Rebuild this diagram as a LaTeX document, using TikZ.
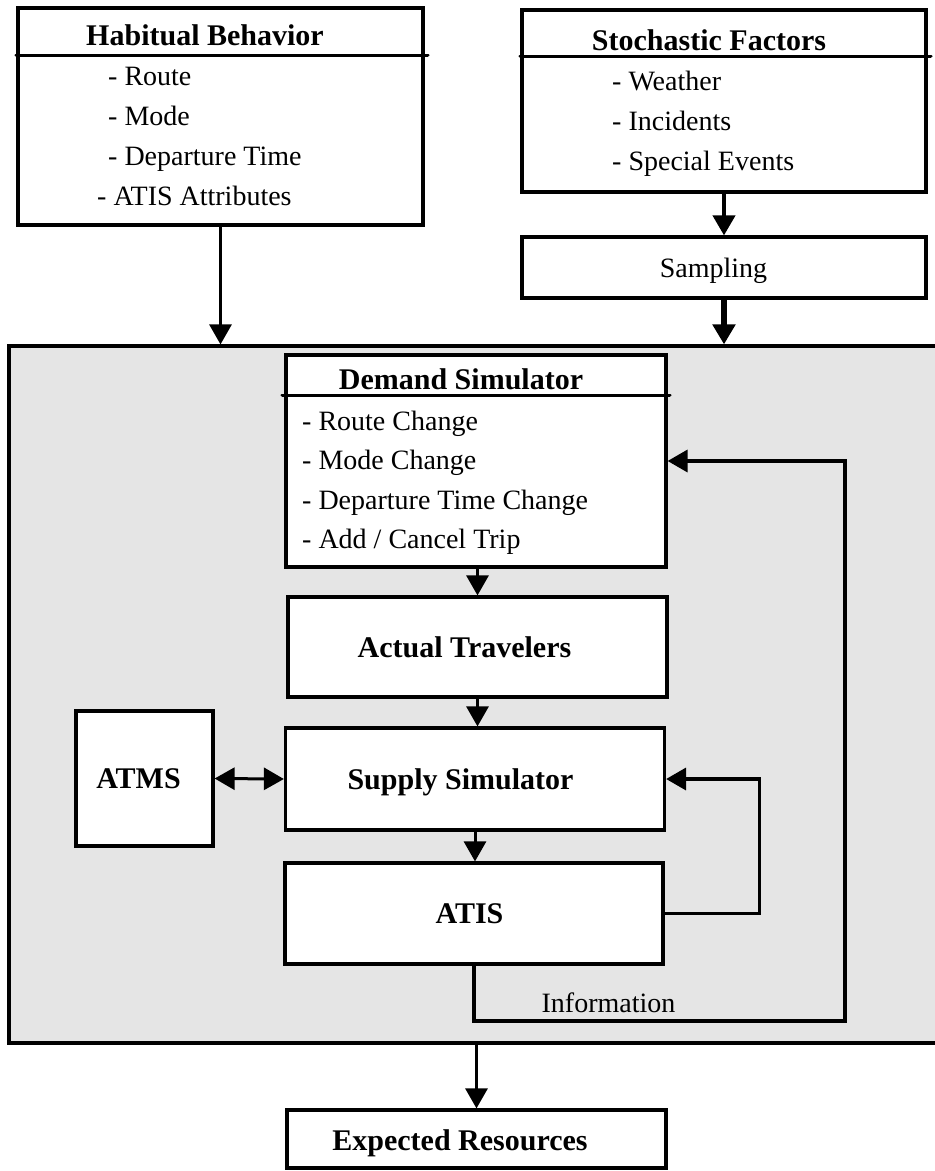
\documentclass[tikz,border=0pt]{standalone}
\usepackage{fontspec}
\setmainfont{Liberation Serif}
\usetikzlibrary{arrows.meta}

\tikzset{
  box/.style={draw, line width=3.2pt, fill=white, inner sep=0pt},
  title/.style={font=\fontsize{30}{36}\selectfont\bfseries, inner sep=0pt, anchor=base},
  item/.style={font=\fontsize{28}{34}\selectfont, inner sep=0pt, anchor=base west},
  plain/.style={font=\fontsize{28}{34}\selectfont, inner sep=0pt, anchor=base},
  arr/.style={line width=3pt, -{Triangle[length=20pt,width=22pt]}},
  dblarr/.style={line width=3pt, {Triangle[length=20pt,width=22pt]}-{Triangle[length=20pt,width=22pt]}},
  headline/.style={line width=3.8pt, line cap=round},
}

\begin{document}
\begin{tikzpicture}[x=1pt,y=-1pt]
  \useasboundingbox (0,0) rectangle (935,1171);

  % simulation frame
  \node[draw, line width=3.2pt, fill=gray!20, inner sep=0pt,
        minimum width=931pt, minimum height=697pt] (sim) at (474.5,694.5) {};

  % boxes
  \node[box, minimum width=405pt, minimum height=217pt] (habit) at (220.5,116.5) {};
  \node[box, minimum width=404pt, minimum height=182pt] (stoch) at (724,101) {};
  \node[box, minimum width=404pt, minimum height=61pt] (sampling) at (724,267.5) {};
  \node[box, minimum width=380pt, minimum height=212pt] (demand) at (476,461) {};
  \node[box, minimum width=379pt, minimum height=100pt] (actual) at (477.5,647) {};
  \node[box, minimum width=379pt, minimum height=102pt] (supply) at (475,779) {};
  \node[box, minimum width=378pt, minimum height=101pt] (atis) at (474,913.5) {};
  \node[box, minimum width=137pt, minimum height=135pt] (atms) at (144.5,778.5) {};
  \node[box, minimum width=379pt, minimum height=58pt] (expected) at (476.5,1139) {};

  % header lines
  \draw[headline] ([yshift=-49pt]habit.north west) -- ([xshift=3pt,yshift=-49pt]habit.north east);
  \draw[headline] ([yshift=-48pt]stoch.north west) -- ([xshift=3pt,yshift=-48pt]stoch.north east);
  \draw[headline] ([xshift=-2pt,yshift=-42pt]demand.north west) -- ([xshift=2pt,yshift=-42pt]demand.north east);

  % texts
  \node[title] (habittitle) at (205,45) {Habitual Behavior};
  \node[item] (hroute) at (108,85) {- Route};
  \node[item] (hmode) at (108,125) {- Mode};
  \node[item] (hdep) at (108,165) {- Departure Time};
  \node[item] (hatis) at (97,205) {- ATIS Attributes};

  \node[title] (stochtitle) at (709,50) {Stochastic Factors};
  \node[item] (sweather) at (612,90) {- Weather};
  \node[item] (sincid) at (612,130) {- Incidents};
  \node[item] (sevents) at (612,170) {- Special Events};
  \node[plain] (samplingtxt) at (713.5,277) {Sampling};

  \node[title] (demandtitle) at (461,389) {Demand Simulator};
  \node[item] (droute) at (302,430) {- Route Change};
  \node[item] (dmode) at (302,469) {- Mode Change};
  \node[item] (ddep) at (302,509) {- Departure Time Change};
  \node[item] (dtrip) at (302,548) {- Add / Cancel Trip};

  \node[title] (actualtxt) at (464.5,657) {Actual Travelers};
  \node[title] (supplytxt) at (460.5,789) {Supply Simulator};
  \node[title] (atmstxt) at (138.5,788) {ATMS};
  \node[title] (atistxt) at (469.5,923) {ATIS};
  \node[title] (expectedtxt) at (460,1150) {Expected Resources};
  \node[plain] (info) at (608.5,1012) {Information};

  % connectors
  \draw[arr] (habit.south) -- (habit.south |- sim.north);
  \draw[arr, line width=4pt] (stoch.south) -- (sampling.north);
  \draw[arr, line width=5.5pt] (sampling.south) -- (sampling.south |- sim.north);
  \draw[arr] (demand.south -| actual.north) -- (actual.north);
  \draw[arr] (actual.south) -- (actual.south |- supply.north);
  \draw[arr] (supply.south) -- (supply.south |- atis.north);
  \draw[dblarr] (atms.east) -- (supply.west);
  \draw[arr, line width=3.5pt] (atis.east) -- ++(95,0) |- (supply.east);
  \coordinate (infocorner) at (845,1021);
  \draw[arr, line width=3.5pt] (atis.south) |- (infocorner) |- (demand.east);
  \draw[arr] (sim.south -| expected.north) -- (expected.north);
\end{tikzpicture}
\end{document}
